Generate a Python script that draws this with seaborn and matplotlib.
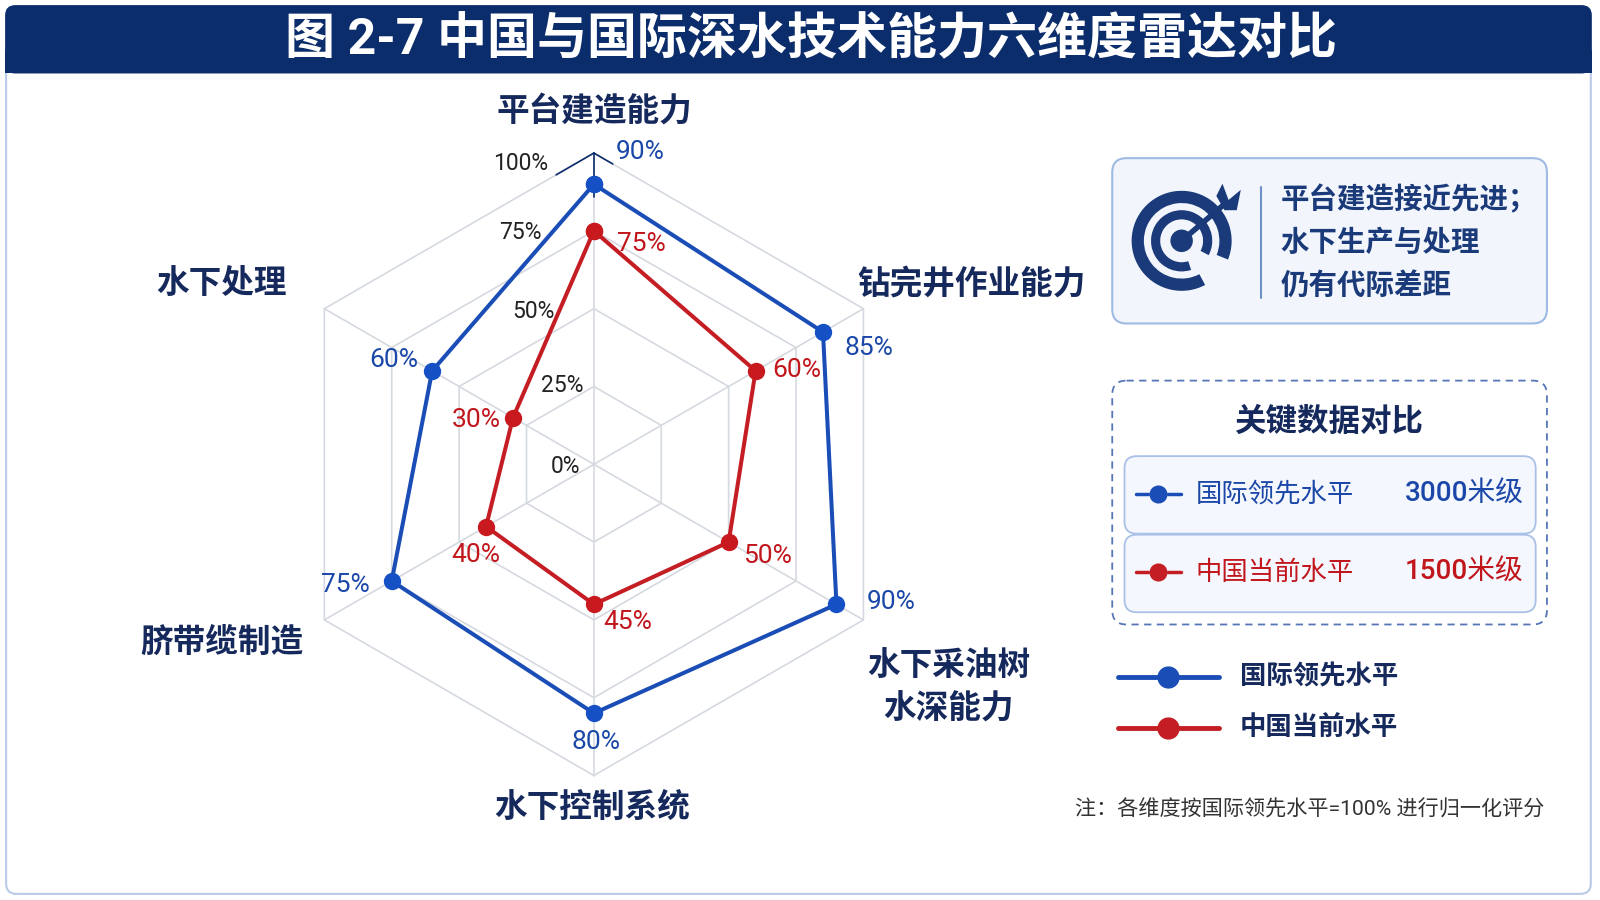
import numpy as np
import matplotlib
matplotlib.use('Agg')
import matplotlib.pyplot as plt
import seaborn as sns
from matplotlib.patches import FancyBboxPatch, Wedge, Circle, Polygon, Rectangle

sns.set_theme(style='white')
plt.rcParams['font.family'] = ['Roboto', 'Noto Sans CJK SC', 'DejaVu Sans']

# ---- datos ----
titulo = '图 2-7 中国与国际深水技术能力六维度雷达对比'
dims = ['平台建造能力', '钻完井作业能力', '水下采油树\n水深能力', '水下控制系统', '脐带缆制造', '水下处理']
intl = [90, 85, 90, 80, 75, 60]
china = [75, 60, 50, 45, 40, 30]
niveles = [0, 25, 50, 75, 100]
serie_intl = '国际领先水平'
serie_china = '中国当前水平'
prof_intl = '3000米级'
prof_china = '1500米级'
resumen = ['平台建造接近先进；', '水下生产与处理', '仍有代际差距']
box_title = '关键数据对比'
nota = '注：各维度按国际领先水平=100% 进行归一化评分'

navy = '#0c2d6b'
dark = '#16295c'
azul = '#1a4db5'
rojo = '#c41e24'
azul_txt = '#1a47a8'
rojo_txt = '#c0161c'
grid = '#d5d9e0'

W, H = 1568, 882  # coordenadas de trabajo (px)

fig = plt.figure(figsize=(16, 9), dpi=100)
fig.patch.set_facecolor('white')

# capa de fondo en pixeles
bg = fig.add_axes([0, 0, 1, 1])
bg.set_xlim(0, W)
bg.set_ylim(H, 0)
bg.axis('off')

bg.add_patch(FancyBboxPatch((6, 40), 1553, 836, boxstyle='round,pad=0,rounding_size=10',
                            fc='white', ec='#b9cbe6', lw=1.5))
bg.add_patch(FancyBboxPatch((5, 5), 1555, 67, boxstyle='round,pad=0,rounding_size=10',
                            fc=navy, ec='none'))
bg.add_patch(Rectangle((5, 50), 1555, 22, fc=navy, ec='none'))
bg.text(795, 40, titulo, color='white', fontsize=36, fontweight='bold',
        ha='center', va='center')

# ---- radar ----
cx, cy, R = 582, 455, 305
ax = fig.add_axes([(cx - R) / W, 1 - (cy + R) / H, 2 * R / W, 2 * R / H], projection='polar')
ax.set_theta_offset(np.pi / 2)
ax.set_theta_direction(-1)
ax.patch.set_alpha(0)

theta = np.deg2rad(np.arange(0, 360, 60))
theta_c = np.append(theta, 2 * np.pi)

for lv in niveles[1:]:
    ax.plot(theta_c, [lv / 100] * 7, color=grid, lw=1.2, clip_on=False, zorder=1)
for t in theta:
    ax.plot([t, t], [0, 1], color=grid, lw=1.2, clip_on=False, zorder=1)

# acento azul oscuro en el eje superior
ax.plot([0, 0], [0.86, 1.0], color=navy, lw=1.2, clip_on=False, zorder=2)
for f, sgn in [(0.14, -1), (0.07, 1)]:
    xs = np.linspace(0, f, 10) * np.sin(np.pi / 3) * sgn
    ys = 1 - np.linspace(0, f, 10) * 0.5
    ax.plot(np.arctan2(xs, ys), np.hypot(xs, ys), color=navy, lw=1.2, clip_on=False, zorder=2)

vi = np.append(intl, intl[0]) / 100
vc = np.append(china, china[0]) / 100
sns.lineplot(x=theta_c, y=vi, ax=ax, color=azul, lw=2.9, marker='o', markersize=12.5,
             markeredgewidth=0, markerfacecolor='#1550c4', sort=False, zorder=4)
sns.lineplot(x=theta_c, y=vc, ax=ax, color=rojo, lw=2.9, marker='o', markersize=12.5,
             markeredgewidth=0, markerfacecolor='#c8191f', sort=False, zorder=5)

ax.set_ylim(0, 1)
ax.set_xticks([])
ax.set_yticks([])
ax.grid(False)
ax.spines['polar'].set_visible(False)
ax.set_xlabel('')
ax.set_ylabel('')

# etiquetas de nivel
off_lv = [(-28, -2), (-31, 1), (-59, -3), (-72, -2), (-72, -10)]
for lv, (dx, dy) in zip(niveles, off_lv):
    ax.annotate(f'{lv}%', xy=(0, lv / 100), xytext=(dx * 1.02, dy * 1.02),
                textcoords='offset pixels', ha='center', va='center',
                fontsize=16.5, color='#222222', annotation_clip=False)

off_i = [(45, 32), (45, -16), (54, 2), (2, -28), (-45, -4), (-38, 11)]
off_c = [(47, -13), (40, 1), (38, -14), (33, -17), (-10, -28), (-36, -2)]
for t, v, (dx, dy) in zip(theta, intl, off_i):
    ax.annotate(f'{v}%', xy=(t, v / 100), xytext=(dx * 1.02, dy * 1.02),
                textcoords='offset pixels', ha='center', va='center',
                fontsize=19, color=azul_txt, annotation_clip=False, zorder=6)
for t, v, (dx, dy) in zip(theta, china, off_c):
    ax.annotate(f'{v}%', xy=(t, v / 100), xytext=(dx * 1.02, dy * 1.02),
                textcoords='offset pixels', ha='center', va='center',
                fontsize=19, color=rojo_txt, annotation_clip=False, zorder=6)

# nombres de dimensiones
pos_dims = [(582, 110), (952, 279), (930, 674), (580, 792), (217, 630), (217, 278)]
for name, (x, y) in zip(dims, pos_dims):
    bg.text(x, y, name, ha='center', va='center', fontsize=23.5, fontweight='bold',
            color=dark, linespacing=1.5)

# ---- panel derecho ----
bg.add_patch(FancyBboxPatch((1090, 155), 426, 162, boxstyle='round,pad=0,rounding_size=14',
                            fc='#f2f6fc', ec='#9fbbe4', lw=1.5))
icx, icy = 1158, 236
ic = '#1b3a7a'
bg.add_patch(Wedge((icx, icy), 49, 62, 22 + 360, width=12, fc=ic, ec='none'))
bg.add_patch(Wedge((icx, icy), 30, 72, 28 + 360, width=9, fc=ic, ec='none'))
bg.add_patch(Circle((icx, icy), 11, fc=ic, ec='none'))
bg.plot([icx, icx + 42], [icy, icy - 36], color=ic, lw=4, solid_capstyle='butt')
bg.add_patch(Polygon([[icx + 34, icy - 44], [icx + 40, icy - 56], [icx + 46, icy - 40],
                      [icx + 58, icy - 50], [icx + 54, icy - 30], [icx + 42, icy - 30]],
                     closed=True, fc=ic, ec='none'))
bg.plot([1236, 1236], [183, 292], color='#6f8fc8', lw=1.5)
for i, line in enumerate(resumen):
    bg.text(1255, 196 + i * 42, line, ha='left', va='center', fontsize=20.5,
            fontweight='bold', color=ic)

bg.add_patch(FancyBboxPatch((1090, 373), 426, 239, boxstyle='round,pad=0,rounding_size=14',
                            fc='white', ec='#5676b8', lw=1.3, ls=(0, (4, 3))))
bg.text(1302, 413, box_title, ha='center', va='center', fontsize=22.7, fontweight='bold', color=dark)
rows = [(serie_intl, prof_intl, azul, azul_txt), (serie_china, prof_china, rojo, rojo_txt)]
for i, (lab, val, c, ct) in enumerate(rows):
    y0 = 447 + i * 77
    bg.add_patch(FancyBboxPatch((1102, y0), 403, 76, boxstyle='round,pad=0,rounding_size=12',
                                fc='#f4f7fd', ec='#a9c1e6', lw=1.3))
    ym = y0 + 37
    bg.plot([1113, 1125], [ym, ym], color=c, lw=2.5)
    bg.plot([1145, 1157], [ym, ym], color=c, lw=2.5)
    bg.plot([1135], [ym], 'o', color=c, markersize=12)
    bg.text(1172, ym, lab, ha='left', va='center', fontsize=19, color=ct)
    bg.text(1493, ym, val, ha='right', va='center', fontsize=20, color=ct, fontweight='medium')

# leyenda
for i, (lab, c) in enumerate([(serie_intl, azul), (serie_china, rojo)]):
    y = 663 + i * 50
    bg.plot([1096, 1195], [y, y], color=c, lw=3.5)
    bg.plot([1145], [y], 'o', color=c, markersize=15)
    bg.text(1215, y, lab, ha='left', va='center', fontsize=19, fontweight='bold', color=dark)

bg.text(1513, 793, nota, ha='right', va='center', fontsize=15.2, color='#333333')

fig.savefig('out.png', dpi=100, facecolor='white')
